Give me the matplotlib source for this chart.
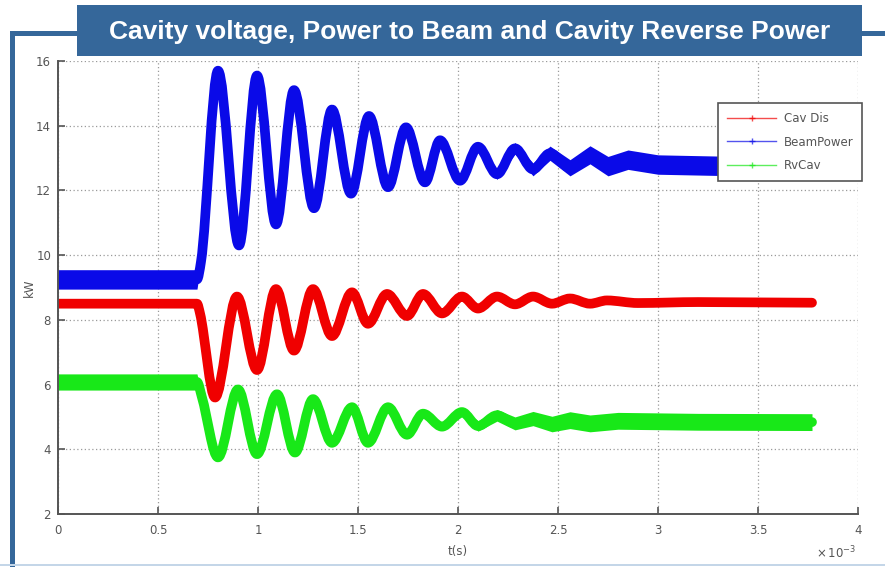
import matplotlib
matplotlib.use("Agg")
import matplotlib.pyplot as plt
from matplotlib.patches import Rectangle, PathPatch
from matplotlib.lines import Line2D
from matplotlib.path import Path
import numpy as np

# time axis in units of 1e-3 s (as on the plot), centre of each trace at key points
beam_t = [0, 0.695, 0.715, 0.80, 0.905, 0.995, 1.09, 1.18, 1.28, 1.37, 1.465, 1.555, 1.65, 1.74,
          1.835, 1.91, 2.01, 2.10, 2.195, 2.285, 2.375, 2.46, 2.56, 2.66, 2.75, 2.85, 3.0, 3.4, 3.74]
beam_v = [9.25, 9.25, 9.8, 15.7, 10.3, 15.55, 10.95, 15.1, 11.45, 14.5, 11.9, 14.3, 12.1, 13.95,
          12.25, 13.55, 12.3, 13.35, 12.5, 13.3, 12.65, 13.15, 12.7, 13.1, 12.75, 12.95, 12.8, 12.75, 12.7]
# half-width of the noise band around the trace
beam_w = [0.3, 0.3, 0, 0, 0, 0, 0, 0, 0, 0, 0, 0, 0, 0.05,
          0.08, 0.1, 0.12, 0.14, 0.16, 0.18, 0.2, 0.22, 0.25, 0.28, 0.3, 0.3, 0.3, 0.3, 0.3]

cav_t = [0, 0.695, 0.71, 0.785, 0.895, 0.995, 1.09, 1.18, 1.275, 1.37, 1.47, 1.55, 1.645, 1.745,
         1.825, 1.92, 2.02, 2.10, 2.195, 2.285, 2.375, 2.47, 2.56, 2.66, 2.745, 2.9, 3.2, 3.77]
cav_v = [8.5, 8.5, 8.2, 5.6, 8.72, 6.45, 8.95, 7.05, 8.95, 7.5, 8.85, 7.88, 8.8, 8.12,
         8.8, 8.2, 8.72, 8.35, 8.72, 8.48, 8.72, 8.5, 8.66, 8.5, 8.6, 8.52, 8.55, 8.53]
cav_w = [0.08, 0.08, 0, 0, 0, 0, 0, 0, 0, 0, 0, 0, 0, 0,
         0, 0, 0, 0, 0.02, 0.03, 0.04, 0.05, 0.06, 0.06, 0.06, 0.06, 0.06, 0.06]

rv_t = [0, 0.695, 0.72, 0.80, 0.90, 0.995, 1.095, 1.185, 1.275, 1.37, 1.47, 1.55, 1.65, 1.745,
        1.825, 1.92, 2.02, 2.10, 2.195, 2.285, 2.375, 2.47, 2.56, 2.66, 2.8, 3.2, 3.77]
rv_v = [6.08, 6.08, 5.6, 3.75, 5.85, 3.85, 5.7, 3.9, 5.55, 4.2, 5.3, 4.2, 5.3, 4.45,
        5.1, 4.7, 5.15, 4.72, 5.05, 4.8, 4.95, 4.78, 4.9, 4.8, 4.88, 4.85, 4.84]
rv_w = [0.25, 0.25, 0, 0, 0, 0, 0, 0, 0, 0, 0.02, 0.04, 0.06, 0.08,
        0.1, 0.12, 0.14, 0.16, 0.18, 0.2, 0.22, 0.24, 0.26, 0.26, 0.26, 0.26, 0.26]

series = [
    ("Cav Dis", cav_t, cav_v, cav_w, "#f00000"),
    ("BeamPower", beam_t, beam_v, beam_w, "#0a0ae8"),
    ("RvCav", rv_t, rv_v, rv_w, "#18e818"),
]

x_ticks = [0, 0.5, 1, 1.5, 2, 2.5, 3, 3.5, 4]
x_tick_labels = ["0", "0.5", "1", "1.5", "2", "2.5", "3", "3.5", "4"]
y_ticks = [2, 4, 6, 8, 10, 12, 14, 16]

TITLE = "Cavity voltage, Power to Beam and Cavity Reverse Power"
FRAME = "#35679a"
W, H = 885, 567

fig = plt.figure(figsize=(8.85, 5.67), dpi=100)


def px_rect(x0, y0, x1, y1, color, z=0):
    # rectangle in pixel coordinates (origin top-left)
    r = Rectangle((x0 / W, 1 - y1 / H), (x1 - x0) / W, (y1 - y0) / H,
                  transform=fig.transFigure, color=color, zorder=z, lw=0)
    fig.add_artist(r)


def smooth_path(t, v):
    # cubic bezier through the points, flat tangent at peaks/troughs
    t = np.asarray(t, float)
    v = np.asarray(v, float)
    d = np.diff(v) / np.diff(t)
    m = np.zeros(len(t))
    for i in range(1, len(t) - 1):
        if d[i - 1] * d[i] > 0:
            m[i] = 2 * d[i - 1] * d[i] / (d[i - 1] + d[i])
    verts = [(t[0], v[0])]
    codes = [Path.MOVETO]
    for i in range(len(t) - 1):
        h = t[i + 1] - t[i]
        verts += [(t[i] + h / 3, v[i] + m[i] * h / 3),
                  (t[i + 1] - h / 3, v[i + 1] - m[i + 1] * h / 3),
                  (t[i + 1], v[i + 1])]
        codes += [Path.CURVE4] * 3
    return Path(verts, codes)


ax = fig.add_axes([58 / W, (H - 514) / H, 800 / W, 453 / H])

for name, t, v, w, col in series:
    tt = np.array(t)
    vv = np.array(v)
    ww = np.array(w)
    ax.fill_between(tt, vv - ww, vv + ww, color=col, lw=0)
    ax.add_patch(PathPatch(smooth_path(t, v), facecolor="none", edgecolor=col, lw=7,
                           capstyle="round", joinstyle="round"))

ax.set_xlim(0, 4)
ax.set_ylim(2, 16)
ax.set_xticks(x_ticks)
ax.set_xticklabels(x_tick_labels)
ax.set_yticks(y_ticks)
ax.grid(True, color="#9a9a9a", linestyle=(0, (1, 2)), lw=0.9)
ax.set_axisbelow(True)
for s in ["top", "right"]:
    ax.spines[s].set_visible(False)
for s in ["left", "bottom"]:
    ax.spines[s].set_color("#555555")
    ax.spines[s].set_linewidth(1.4)
ax.tick_params(direction="in", length=5, width=1.2, color="#555555",
               labelsize=8.5, labelcolor="#555555")
ax.tick_params(axis="x", pad=7)
ax.tick_params(axis="y", pad=5)
ax.set_xlabel("t(s)", fontsize=8.5, color="#555555", labelpad=6)
ax.set_ylabel("kW", fontsize=8.5, color="#555555", labelpad=0)
ax.text(0.998, -0.086, r"$\times\,10^{-3}$", transform=ax.transAxes, fontsize=8.5,
        color="#555555", ha="right", va="center")

handles = [Line2D([0], [0], color=col, lw=1, marker="+", markersize=5, alpha=0.7)
           for name, t, v, w, col in series]
leg = ax.legend(handles, [s[0] for s in series], loc="upper left",
                bbox_to_anchor=(0.825, 0.907), borderaxespad=0, fontsize=8.5,
                fancybox=False, edgecolor="#555555", framealpha=1, handlelength=4.2,
                handletextpad=0.6, borderpad=0.75, labelspacing=0.9, numpoints=1)
leg.get_frame().set_linewidth(1.2)
for txt in leg.get_texts():
    txt.set_color("#555555")

# slide frame and title banner
px_rect(10, 31, W, 36, FRAME, z=5)
px_rect(10, 31, 15, H, FRAME, z=5)
px_rect(0, 564, W, 566, "#c4d6e8", z=5)
px_rect(77, 5, 862, 56, FRAME, z=6)
fig.text((77 + 862) / 2 / W, 1 - 32 / H, TITLE, color="white", fontsize=19,
         fontweight="bold", family="Liberation Sans", ha="center", va="center", zorder=7)

fig.savefig("out.png", dpi=100)
